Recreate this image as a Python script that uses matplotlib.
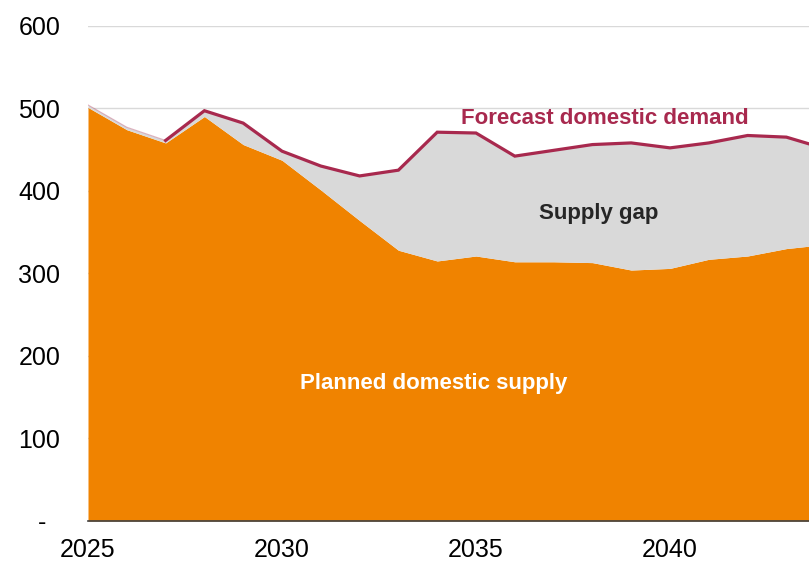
import matplotlib
matplotlib.use("Agg")
import matplotlib.pyplot as plt
import numpy as np

plt.rcParams['font.family'] = ['Liberation Sans', 'DejaVu Sans']

years = np.arange(2025, 2045)
supply = [501, 474, 458, 490, 456, 437, 401, 364, 328, 315,
          321, 314, 314, 313, 304, 306, 317, 321, 330, 335]
demand = [504, 477, 461, 497, 482, 448, 430, 418, 425, 471,
          470, 442, 449, 456, 458, 452, 458, 467, 465, 451]

y_ticks = [0, 100, 200, 300, 400, 500, 600]
y_labels = ['-  ', '100', '200', '300', '400', '500', '600']
x_ticks = [2025, 2030, 2035, 2040]

orange = '#F08300'
gap_grey = '#D9D9D9'
crimson = '#A8294E'

fig = plt.figure(figsize=(8.09, 5.63), dpi=100)
ax = fig.add_axes([88/809, 1 - 521/563, 1 - 88/809, (521 - 25.7)/563])

ax.fill_between(years, 0, supply, color=orange, lw=0, zorder=2)
ax.fill_between(years, supply, demand, color=gap_grey, lw=0, zorder=2)
# early years: demand barely above supply, just a faint edge
ax.plot(years[:3], demand[:3], color=crimson, lw=0.8, alpha=0.35, zorder=3)
ax.plot(years[2:], demand[2:], color=crimson, lw=2.3, zorder=3,
        solid_joinstyle='miter')

ax.set_xlim(2025, 2025 + (809 - 88)/38.8)
ax.set_ylim(0, 600)
ax.set_yticks(y_ticks)
ax.set_yticklabels(y_labels)
ax.set_xticks(x_ticks)
ax.grid(axis='y', color='#D9D9D9', lw=1, zorder=0)
ax.set_axisbelow(True)
ax.tick_params(axis='y', length=0, pad=20, labelsize=18)
ax.tick_params(axis='x', length=0, pad=12.5, labelsize=18)

for s in ['top', 'right', 'left']:
    ax.spines[s].set_visible(False)
ax.spines['bottom'].set_color('#404040')
ax.spines['bottom'].set_linewidth(1.2)
ax.spines['bottom'].set_zorder(4)

ax.text(2038.32, 488, 'Forecast domestic demand', color=crimson,
        fontsize=16, fontweight='bold', ha='center', va='center')
ax.text(2038.16, 373, 'Supply gap', color='#262626',
        fontsize=16, fontweight='bold', ha='center', va='center', zorder=5)
ax.text(2033.9, 166, 'Planned domestic supply', color='white',
        fontsize=16, fontweight='bold', ha='center', va='center', zorder=5)

fig.savefig('out.png', dpi=100)
